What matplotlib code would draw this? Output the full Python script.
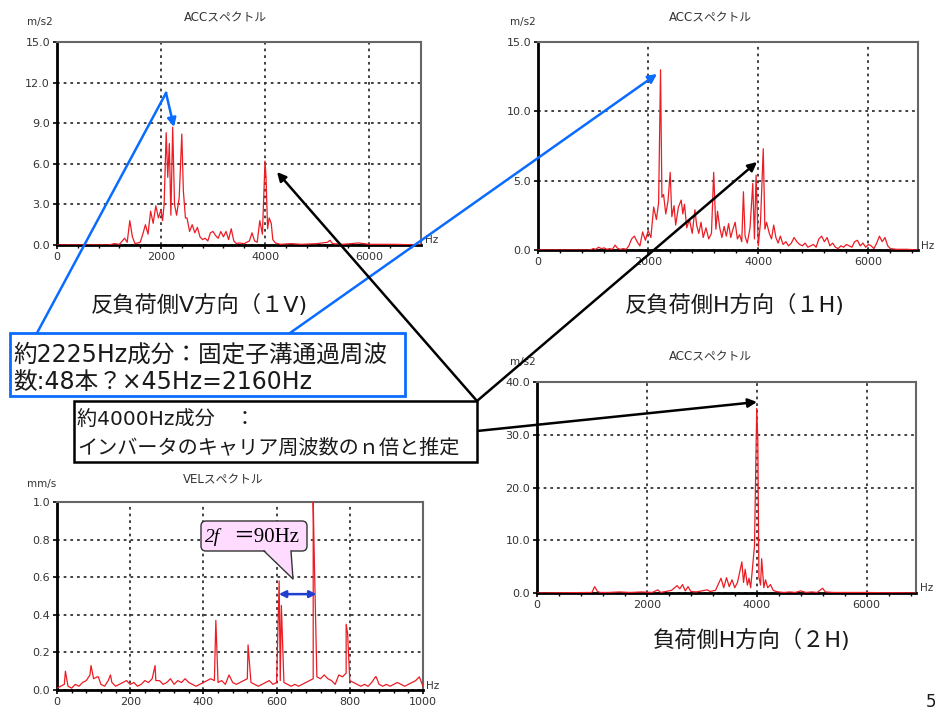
import matplotlib.pyplot as plt
from matplotlib.patches import Rectangle, FancyBboxPatch, Polygon
from matplotlib.ticker import AutoMinorLocator, FormatStrFormatter
import numpy as np

plt.rcParams['font.family'] = ['DejaVu Sans', 'Noto Sans CJK JP']

W, H = 944, 717

# ---- spectrum data: (Hz, amplitude) ----
acc_1v = [(0, 0.0), (1000, 0.0), (1100, 0.1), (1200, 0.05), (1300, 0.5), (1350, 0.2),
          (1400, 1.8), (1450, 0.6), (1500, 0.1), (1600, 0.2), (1650, 0.8), (1700, 1.5),
          (1750, 0.8), (1800, 2.5), (1850, 1.6), (1900, 2.9), (1950, 2.0), (2000, 2.6),
          (2030, 1.8), (2060, 3.0), (2100, 8.3), (2130, 5.0), (2160, 7.5), (2190, 2.2),
          (2225, 8.7), (2260, 3.0), (2300, 2.2), (2350, 3.5), (2400, 8.2), (2430, 4.0),
          (2470, 2.0), (2500, 2.0), (2550, 1.0), (2600, 1.5), (2650, 0.9), (2700, 1.3),
          (2750, 0.6), (2800, 0.4), (2850, 0.5), (2900, 0.3), (2950, 0.9), (3000, 1.0),
          (3050, 0.7), (3100, 0.5), (3150, 1.0), (3200, 0.6), (3250, 1.0), (3300, 0.4),
          (3350, 1.2), (3400, 0.3), (3450, 0.1), (3500, 0.15), (3600, 0.1), (3700, 0.3),
          (3750, 0.9), (3800, 0.3), (3850, 0.2), (3900, 1.8), (3950, 0.8), (3980, 4.0),
          (4000, 6.2), (4020, 5.0), (4050, 1.2), (4080, 2.0), (4120, 1.6), (4150, 0.4),
          (4200, 0.15), (4300, 0.05), (4500, 0.1), (4700, 0.05), (5000, 0.1), (5200, 0.2),
          (5250, 0.35), (5300, 0.1), (5500, 0.05), (5800, 0.15), (6000, 0.05),
          (6500, 0.05), (7000, 0.0)]

acc_1h = [(0, 0.0), (950, 0.0), (1000, 0.1), (1050, 0.05), (1100, 0.2), (1150, 0.1),
          (1200, 0.15), (1250, 0.05), (1300, 0.1), (1350, 0.05), (1400, 0.35), (1450, 0.1),
          (1500, 0.05), (1550, 0.1), (1600, 0.05), (1650, 0.3), (1700, 0.8), (1750, 1.0),
          (1800, 0.6), (1850, 0.3), (1900, 1.3), (1950, 0.7), (2000, 1.4), (2050, 0.9),
          (2100, 3.1), (2150, 2.2), (2190, 3.4), (2225, 13.0), (2250, 3.8), (2280, 4.0),
          (2320, 2.6), (2360, 3.5), (2400, 5.6), (2430, 2.4), (2470, 3.2), (2500, 1.8),
          (2550, 3.1), (2600, 3.6), (2630, 2.6), (2660, 3.3), (2700, 1.6), (2750, 2.2),
          (2800, 1.2), (2850, 2.9), (2880, 1.8), (2920, 1.2), (2960, 2.0), (3000, 0.9),
          (3050, 1.6), (3100, 0.8), (3150, 1.2), (3190, 5.6), (3230, 1.5), (3260, 2.8),
          (3300, 1.6), (3340, 0.9), (3380, 1.7), (3420, 1.0), (3460, 1.9), (3500, 0.9),
          (3540, 1.5), (3580, 2.0), (3620, 0.8), (3660, 1.1), (3700, 0.6), (3730, 4.2),
          (3760, 1.0), (3800, 0.5), (3850, 1.6), (3900, 4.8), (3930, 0.8), (3960, 5.4),
          (4000, 0.3), (4040, 2.0), (4090, 7.3), (4120, 1.5), (4150, 2.0), (4200, 1.2),
          (4240, 0.8), (4280, 1.8), (4320, 0.9), (4360, 0.5), (4400, 1.0), (4450, 0.4),
          (4500, 0.6), (4550, 0.3), (4600, 0.5), (4650, 0.9), (4700, 0.6), (4750, 0.4),
          (4800, 0.3), (4850, 0.5), (4900, 0.2), (4950, 0.3), (5000, 0.4), (5050, 0.2),
          (5100, 0.8), (5150, 1.0), (5200, 0.6), (5250, 0.9), (5300, 0.3), (5350, 0.5),
          (5400, 0.2), (5450, 0.1), (5500, 0.3), (5550, 0.2), (5600, 0.4), (5650, 0.3),
          (5700, 0.2), (5750, 0.6), (5800, 0.7), (5850, 0.3), (5900, 0.5), (5950, 0.2),
          (6000, 0.4), (6050, 0.3), (6100, 0.1), (6150, 0.5), (6200, 1.0), (6250, 0.6),
          (6300, 0.9), (6350, 0.3), (6400, 0.1), (6500, 0.05), (6700, 0.05), (6900, 0.0)]

acc_2h = [(0, 0.0), (1000, 0.1), (1050, 1.2), (1100, 0.3), (1150, 0.1), (1300, 0.1),
          (1500, 0.2), (1700, 0.1), (1900, 0.2), (2100, 0.1), (2200, 0.6), (2250, 0.1),
          (2350, 0.3), (2450, 0.5), (2550, 1.4), (2600, 0.8), (2650, 1.6), (2700, 0.4),
          (2750, 1.2), (2800, 0.3), (2900, 0.2), (3000, 0.4), (3100, 0.6), (3150, 0.3),
          (3250, 0.5), (3350, 2.8), (3400, 1.0), (3450, 2.9), (3500, 1.2), (3550, 2.5),
          (3600, 1.0), (3650, 2.0), (3730, 5.9), (3760, 2.0), (3790, 4.5), (3830, 1.5),
          (3860, 2.8), (3890, 1.0), (3915, 3.8), (3960, 9.0), (3980, 22.0), (4000, 35.0),
          (4020, 29.0), (4040, 3.0), (4070, 1.5), (4090, 6.5), (4130, 1.0), (4160, 2.5),
          (4200, 1.0), (4250, 1.6), (4300, 0.5), (4350, 0.3), (4400, 0.2), (4500, 0.1),
          (4600, 0.2), (4700, 0.1), (4800, 0.4), (4900, 0.1), (5000, 0.2), (5100, 0.1),
          (5200, 0.9), (5250, 0.2), (5400, 0.1), (5600, 0.1), (5800, 0.1), (6000, 0.1),
          (6300, 0.05), (6600, 0.05), (6900, 0.0)]

vel_freq = list(range(0, 1001, 10))
vel_base = [0.01, 0.02, 0.03, 0.02, 0.01, 0.03, 0.02, 0.04, 0.05, 0.08,
            0.06, 0.07, 0.03, 0.02, 0.05, 0.04, 0.02, 0.03, 0.04, 0.05,
            0.03, 0.04, 0.02, 0.03, 0.05, 0.04, 0.06, 0.05, 0.05, 0.03,
            0.04, 0.06, 0.03, 0.05, 0.04, 0.06, 0.04, 0.03, 0.02, 0.03,
            0.04, 0.05, 0.06, 0.05, 0.04, 0.05, 0.03, 0.08, 0.04, 0.03,
            0.04, 0.05, 0.06, 0.04, 0.03, 0.02, 0.03, 0.04, 0.05, 0.03,
            0.04, 0.05, 0.04, 0.03, 0.02, 0.03, 0.02, 0.03, 0.04, 0.05,
            0.06, 0.07, 0.06, 0.08, 0.06, 0.05, 0.03, 0.08, 0.07, 0.09,
            0.05, 0.04, 0.03, 0.02, 0.03, 0.02, 0.04, 0.07, 0.03, 0.02,
            0.03, 0.02, 0.03, 0.04, 0.03, 0.02, 0.03, 0.04, 0.05, 0.07,
            0.02]
vel_peaks = [(23, 0.10), (93, 0.13), (113, 0.07), (146, 0.08), (268, 0.13),
             (434, 0.37), (522, 0.24), (607, 0.58), (613, 0.45), (700, 1.0),
             (703, 0.7), (790, 0.35), (794, 0.30), (872, 0.07)]

LINE_RED = '#ec1c24'
BLUE = '#0a6cff'


def px_rect(left, top, right, bottom):
    return [left / W, 1 - bottom / H, (right - left) / W, (bottom - top) / H]


def spectrum_panel(ax, pairs, xmax, xstep, ymax, ystep, yfmt):
    f, a = zip(*sorted(pairs))
    ax.plot(f, a, color=LINE_RED, lw=0.9, zorder=3)
    ax.set_xlim(0, xmax)
    ax.set_ylim(0, ymax)
    ax.set_xticks(np.arange(0, xmax + 1, xstep))
    ax.set_yticks(np.arange(0, ymax + ystep / 2, ystep))
    ax.xaxis.set_minor_locator(AutoMinorLocator(5))
    ax.yaxis.set_major_formatter(FormatStrFormatter(yfmt))
    ax.grid(True, which='major', color='#333333', lw=1.3, linestyle=(0, (1.5, 2.2)))
    ax.tick_params(axis='both', which='major', labelsize=8, labelcolor='#333333',
                   length=3, width=1.2, pad=2)
    ax.tick_params(axis='x', which='minor', length=2.5, width=1)
    for s in ('left', 'bottom'):
        ax.spines[s].set_linewidth(2)
        ax.spines[s].set_color('black')
    for s in ('top', 'right'):
        ax.spines[s].set_linewidth(1.5)
        ax.spines[s].set_color('#666666')


fig = plt.figure(figsize=(W / 100, H / 100), dpi=100)

ax1 = fig.add_axes(px_rect(57, 42, 421, 245))
spectrum_panel(ax1, acc_1v, 7000, 2000, 15, 3, '%.1f')

ax2 = fig.add_axes(px_rect(538, 42, 918, 250))
spectrum_panel(ax2, acc_1h, 6900, 2000, 15, 5, '%.1f')

ax3 = fig.add_axes(px_rect(537, 382, 916, 593))
spectrum_panel(ax3, acc_2h, 6900, 2000, 40, 10, '%.1f')

ax4 = fig.add_axes(px_rect(57, 502, 423, 690))
spectrum_panel(ax4, list(zip(vel_freq, vel_base)) + vel_peaks, 1000, 200, 1.0, 0.2, '%.1f')
ax4.annotate('', xy=(709, 0.51), xytext=(606, 0.51),
             arrowprops=dict(arrowstyle='<|-|>', color='#1f3fd0', lw=1.8,
                             mutation_scale=10, shrinkA=0, shrinkB=0))

# ---- overlay in pixel coordinates for labels, boxes and arrows ----
ov = fig.add_axes([0, 0, 1, 1], zorder=10)
ov.set_xlim(0, W)
ov.set_ylim(H, 0)
ov.axis('off')

small = dict(fontsize=8.5, color='#333333', va='center')
for x, y, t in [(225, 18, 'ACCスペクトル'), (710, 18, 'ACCスペクトル'),
                (710, 357, 'ACCスペクトル'), (223, 480, 'VELスペクトル')]:
    ov.text(x, y, t, ha='center', **small)
for x, y, t in [(27, 22, 'm/s2'), (510, 22, 'm/s2'), (510, 362, 'm/s2'), (27, 484, 'mm/s')]:
    ov.text(x, y, t, ha='left', fontsize=7.5, color='#333333', va='center')
for x, y in [(425, 240), (921, 246), (920, 588), (426, 686)]:
    ov.text(x, y, 'Hz', ha='left', fontsize=7.5, color='#333333', va='center')

sub = dict(fontsize=16, color='#1a1a1a', ha='center', va='center')
ov.text(199, 305, '反負荷側V方向（１V)', **sub)
ov.text(735, 305, '反負荷側H方向（１H)', **sub)
ov.text(752, 640, '負荷側H方向（２H)', **sub)
ov.text(931, 702, '5', fontsize=12, color='#1a1a1a', ha='center', va='center')

# blue callout
ov.add_patch(Rectangle((10, 333), 395, 63, facecolor='white', edgecolor=BLUE, lw=2, zorder=4))
ov.text(13, 355, '約2225Hz成分：固定子溝通過周波', fontsize=17, ha='left', va='center',
        color='#1a1a1a', zorder=5)
ov.text(13, 382, '数:48本？×45Hz=2160Hz', fontsize=17, ha='left', va='center',
        color='#1a1a1a', zorder=5)

# black callout
ov.add_patch(Rectangle((74, 401), 403, 61, facecolor='white', edgecolor='black', lw=1.8, zorder=4))
ov.text(77, 420, '約4000Hz成分　：', fontsize=14.5, ha='left', va='center',
        color='#1a1a1a', zorder=5)
ov.text(77, 448, 'インバータのキャリア周波数のｎ倍と推定', fontsize=14.5, ha='left', va='center',
        color='#1a1a1a', zorder=5)

arrow_kw = dict(arrowstyle='-|>', lw=1.8, mutation_scale=13, shrinkA=0, shrinkB=0)
ov.plot([37, 166], [333, 93], color=BLUE, lw=1.8, zorder=3)
ov.annotate('', xy=(174, 127), xytext=(166, 93), arrowprops=dict(color=BLUE, **arrow_kw))
ov.annotate('', xy=(657, 74), xytext=(290, 333), arrowprops=dict(color=BLUE, **arrow_kw))
ov.annotate('', xy=(277, 172), xytext=(477, 401), arrowprops=dict(color='black', **arrow_kw))
ov.annotate('', xy=(757, 162), xytext=(477, 401), arrowprops=dict(color='black', **arrow_kw))
ov.annotate('', xy=(757, 402), xytext=(477, 431), arrowprops=dict(color='black', **arrow_kw))

# pink speech bubble "2f = 90Hz"
pink = '#ffdcff'
ov.add_patch(FancyBboxPatch((201, 521), 106, 30, boxstyle='round,pad=0,rounding_size=5',
                            facecolor=pink, edgecolor='#333333', lw=1, zorder=4))
ov.add_patch(Polygon([(264, 549.5), (293, 579), (291, 549.5)], closed=True,
                     facecolor=pink, edgecolor='none', zorder=5))
ov.plot([264, 293, 291], [551, 579, 551], color='#333333', lw=1, zorder=6)
ov.text(205, 537, '2f', fontsize=14, style='italic', family=['Liberation Serif', 'Noto Sans CJK JP'],
        ha='left', va='center', zorder=7)
ov.text(233, 537, '＝90Hz', fontsize=15, family=['Liberation Serif', 'Noto Sans CJK JP'],
        ha='left', va='center', zorder=7)

fig.savefig('out.png', dpi=100)
